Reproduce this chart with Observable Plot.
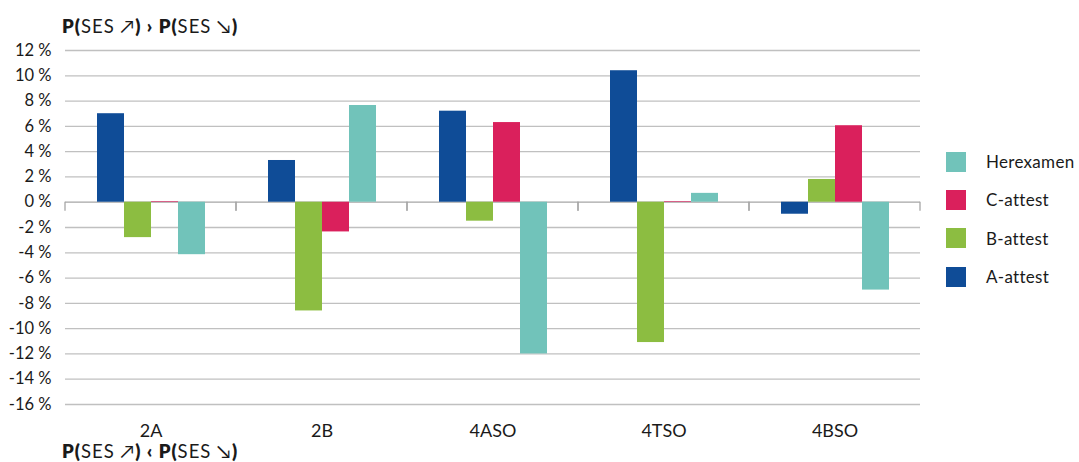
<!DOCTYPE html>
<html>
<head>
<meta charset="utf-8">
<script src="https://cdn.jsdelivr.net/npm/d3@7"></script>
<script src="https://cdn.jsdelivr.net/npm/@observablehq/plot@0.6"></script>
<style>
  html, body { margin: 0; padding: 0; background: #fff; }
  #wrap { position: relative; width: 1079px; height: 462px; font-family: Lato, "Noto Sans", sans-serif; color: #1a1a1a; }
  #chart { position: absolute; left: 0; top: 0; }
  .note { position: absolute; left: 62px; font-size: 18.5px; line-height: 18px; white-space: nowrap; letter-spacing: 1px; }
  .note b { font-weight: 800; }
  #legend { position: absolute; left: 946px; top: 142.5px; }
  .item { display: flex; align-items: center; height: 38.3px; font-size: 17px; letter-spacing: 0.3px; }
  .sw { width: 20px; height: 20px; margin-right: 20px; flex: none; }
</style>
</head>
<body>
<div id="wrap">
  <div id="chart"></div>
  <div class="note" style="top:17px"><b>P(</b>SES ↗<b>) › P(</b>SES ↘<b>)</b></div>
  <div class="note" style="top:442px"><b>P(</b>SES ↗<b>) ‹ P(</b>SES ↘<b>)</b></div>
  <div id="legend"></div>
</div>
<script>
// School types along the horizontal axis
const categories = ["2A", "2B", "4ASO", "4TSO", "4BSO"];

// Outcome series, in bar order within each group
const seriesNames = ["A-attest", "B-attest", "C-attest", "Herexamen"];
const seriesColors = ["#0f4c97", "#8cbd41", "#da205c", "#71c3ba"];

// Percentage-point differences per school type
const aAttest   = [7.0, 3.3, 7.2, 10.4, -0.95];
const bAttest   = [-2.8, -8.6, -1.5, -11.1, 1.8];
const cAttest   = [0.05, -2.35, 6.3, 0.05, 6.05];
const herexamen = [-4.15, 7.65, -12.0, 0.7, -6.95];

// Value axis ticks
const yTicks = [12, 10, 8, 6, 4, 2, 0, -2, -4, -6, -8, -10, -12, -14, -16];

const seriesValues = [aAttest, bAttest, cAttest, herexamen];
const rows = categories.flatMap((category, i) =>
  seriesNames.map((series, j) => ({category, series, value: seriesValues[j][i]}))
);

// Short tick marks at the edges of each category group, below the zero line
const groupEdges = (index, scales, values, dimensions) => {
  const g = d3.create("svg:g");
  const y0 = scales.y(0);
  for (const x of [dimensions.marginLeft, dimensions.width - dimensions.marginRight]) {
    g.append("line")
      .attr("x1", x).attr("x2", x)
      .attr("y1", y0).attr("y2", y0 + 9)
      .attr("stroke", "#a6a6a6")
      .attr("stroke-width", 1.3);
  }
  return g.node();
};

const chart = Plot.plot({
  width: 1079,
  height: 462,
  marginTop: 50,
  marginBottom: 58,
  marginLeft: 63,
  marginRight: 158,
  style: {fontFamily: "Lato, 'Noto Sans', sans-serif", fontSize: "16.5px", color: "#1a1a1a", background: "#fff"},
  fx: {domain: categories, padding: 0, label: null},
  x: {domain: seriesNames, paddingInner: 0, paddingOuter: 1.07, axis: null},
  y: {domain: [-16, 12], axis: null},
  color: {domain: seriesNames, range: seriesColors},
  marks: [
    Plot.ruleY(yTicks.filter((d) => d !== 0), {stroke: "#c0c0c0", strokeWidth: 1.3}),
    Plot.ruleY([0], {stroke: "#a6a6a6", strokeWidth: 1.3}),
    groupEdges,
    Plot.barY(rows, {fx: "category", x: "series", y1: 0, y2: "value", fill: "series", inset: 0}),
    Plot.axisY(yTicks, {tickFormat: (d) => `${d} %`, tickSize: 0, tickPadding: 14, fontSize: 16.5, label: null}),
    Plot.axisFx({anchor: "bottom", tickSize: 0, tickPadding: 20, fontSize: 18, label: null})
  ]
});
document.getElementById("chart").append(chart);

// Legend, listed from the last series to the first
const legend = d3.select("#legend");
seriesNames.map((name, i) => ({name, color: seriesColors[i]})).reverse().forEach(({name, color}) => {
  const item = legend.append("div").attr("class", "item");
  item.append("div").attr("class", "sw").style("background", color);
  item.append("span").text(name);
});
</script>
</body>
</html>
